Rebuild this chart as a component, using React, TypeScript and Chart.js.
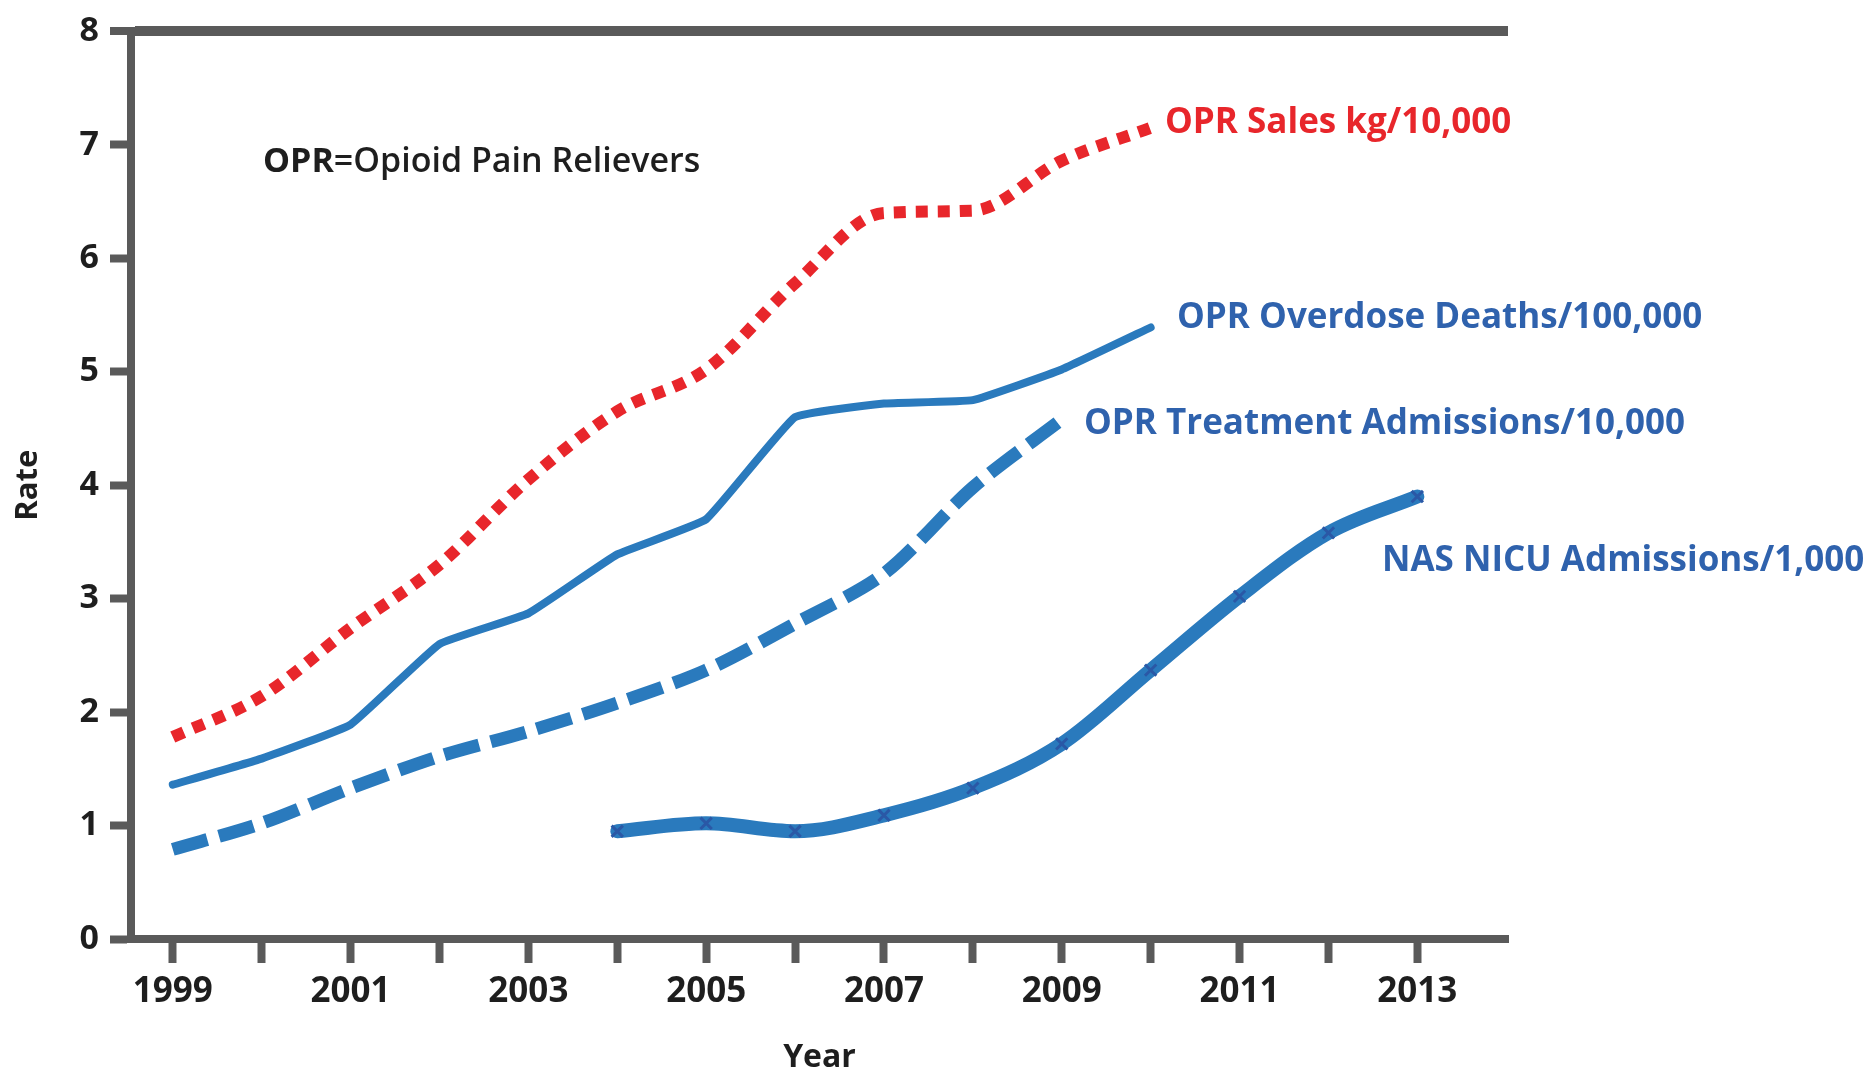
import React, { useEffect, useRef } from "react";
import { Chart, registerables } from "chart.js";

Chart.register(...registerables);

// ---------- data ----------
const salesYears = [1999, 2000, 2001, 2002, 2003, 2004, 2005, 2006, 2007, 2008, 2009, 2010];
const salesValues = [1.78, 2.14, 2.74, 3.3, 4.05, 4.65, 5.02, 5.78, 6.4, 6.42, 6.86, 7.15];

const deathsYears = [1999, 2000, 2001, 2002, 2003, 2004, 2005, 2006, 2007, 2008, 2009, 2010];
const deathsValues = [1.36, 1.59, 1.89, 2.6, 2.87, 3.39, 3.7, 4.6, 4.72, 4.75, 5.02, 5.39];

const treatmentYears = [1999, 2000, 2001, 2002, 2003, 2004, 2005, 2006, 2007, 2008, 2009];
const treatmentValues = [0.79, 1.02, 1.33, 1.61, 1.83, 2.08, 2.37, 2.78, 3.22, 3.98, 4.58];

const nasYears = [2004, 2005, 2006, 2007, 2008, 2009, 2010, 2011, 2012, 2013];
const nasValues = [0.95, 1.02, 0.95, 1.09, 1.33, 1.72, 2.37, 3.02, 3.58, 3.9];

const xTickYears = [1999, 2000, 2001, 2002, 2003, 2004, 2005, 2006, 2007, 2008, 2009, 2010, 2011, 2012, 2013];
const xLabelYears = [1999, 2001, 2003, 2005, 2007, 2009, 2011, 2013];

const seriesNames = [
  "OPR Sales kg/10,000",
  "OPR Overdose Deaths/100,000",
  "OPR Treatment Admissions/10,000",
  "NAS NICU Admissions/1,000",
];
const noteBold = "OPR";
const noteRest = "=Opioid Pain Relievers";
const xTitle = "Year";
const yTitle = "Rate";

// ---------- styles ----------
const GRAY = "#5a5a5a";
const RED = "#e8262b";
const LINE_BLUE = "#2a7abd";
const TEXT_BLUE = "#2f62ad";
const MARK_BLUE = "#2a58a6";
const TEXT_DARK = "#1e1e1e";
const FONT = "'Open Sans', 'Noto Sans', sans-serif";

const pts = (xs: number[], ys: number[]) => xs.map((x, i) => ({ x, y: ys[i] }));

const labelPlugin = {
  id: "seriesLabels",
  afterDraw(chart: any) {
    const ctx = chart.ctx;
    ctx.save();
    ctx.textBaseline = "middle";
    ctx.textAlign = "left";
    // note
    ctx.fillStyle = TEXT_DARK;
    ctx.font = `700 34px ${FONT}`;
    ctx.fillText(noteBold, 263, 162);
    const w = ctx.measureText(noteBold).width;
    ctx.font = `600 34px ${FONT}`;
    ctx.fillText(noteRest, 263 + w, 162);

    const items = [
      { text: seriesNames[0], color: RED, x: 1165, y: 123 },
      { text: seriesNames[1], color: TEXT_BLUE, x: 1177, y: 318 },
      { text: seriesNames[2], color: TEXT_BLUE, x: 1084, y: 424 },
      { text: seriesNames[3], color: TEXT_BLUE, x: 1382, y: 561 },
    ];
    ctx.font = `700 35px ${FONT}`;
    for (const it of items) {
      ctx.fillStyle = it.color;
      ctx.fillText(it.text, it.x, it.y);
    }
    ctx.restore();
  },
};

export default function App() {
  const ref = useRef<HTMLCanvasElement | null>(null);

  useEffect(() => {
    if (!ref.current) return;
    const tickFont = { family: FONT, size: 35, weight: "bold" as const };
    const chart = new Chart(ref.current, {
      type: "line",
      data: {
        datasets: [
          {
            label: seriesNames[0],
            data: pts(salesYears, salesValues),
            borderColor: RED,
            borderWidth: 12,
            borderDash: [12, 10],
            borderCapStyle: "butt",
            cubicInterpolationMode: "monotone",
            pointRadius: 0,
          },
          {
            label: seriesNames[1],
            data: pts(deathsYears, deathsValues),
            borderColor: LINE_BLUE,
            borderWidth: 8,
            borderCapStyle: "round",
            borderJoinStyle: "round",
            tension: 0.1,
            pointRadius: 0,
          },
          {
            label: seriesNames[2],
            data: pts(treatmentYears, treatmentValues),
            borderColor: LINE_BLUE,
            borderWidth: 13,
            borderDash: [36, 12],
            borderCapStyle: "butt",
            tension: 0.3,
            pointRadius: 0,
          },
          {
            label: seriesNames[3],
            data: pts(nasYears, nasValues),
            borderColor: LINE_BLUE,
            borderWidth: 14,
            borderCapStyle: "round",
            cubicInterpolationMode: "monotone",
            pointStyle: "crossRot",
            pointRadius: 8,
            pointBorderWidth: 3,
            pointBorderColor: MARK_BLUE,
            pointBackgroundColor: MARK_BLUE,
          },
        ],
      },
      options: {
        responsive: false,
        animation: false,
        events: [],
        layout: { padding: { left: 0, top: 23, right: 360, bottom: 0 } },
        plugins: { legend: { display: false }, tooltip: { enabled: false } },
        scales: {
          x: {
            type: "linear",
            min: 1998.53,
            max: 2014.02,
            afterBuildTicks: (s: any) => {
              s.ticks = xTickYears.map((v) => ({ value: v }));
            },
            afterFit: (s: any) => {
              s.height = 136;
            },
            ticks: {
              autoSkip: false,
              maxRotation: 0,
              padding: 8,
              color: TEXT_DARK,
              font: tickFont,
              callback: (v: any) => (xLabelYears.includes(Number(v)) ? String(v) : ""),
            },
            grid: {
              drawOnChartArea: false,
              drawTicks: true,
              tickLength: 24,
              tickWidth: 8,
              tickColor: GRAY,
            },
            border: { display: true, color: GRAY, width: 8 },
            title: {
              display: true,
              text: xTitle,
              color: TEXT_DARK,
              font: { family: FONT, size: 32, weight: "bold", lineHeight: 1.0 },
              padding: { top: 0, bottom: 1 },
            },
          },
          y: {
            min: 0,
            max: 8,
            afterFit: (s: any) => {
              s.width = 131;
            },
            ticks: {
              stepSize: 1,
              padding: 11,
              color: TEXT_DARK,
              font: { family: FONT, size: 34, weight: "bold" },
            },
            grid: {
              drawOnChartArea: true,
              color: (c: any) => (c.tick && c.tick.value === 8 ? GRAY : "rgba(0,0,0,0)"),
              lineWidth: (c: any) => (c.tick && c.tick.value === 8 ? 10 : 1),
              tickLength: 21,
              tickWidth: 8,
              tickColor: GRAY,
            },
            border: { display: true, color: GRAY, width: 8 },
            title: {
              display: true,
              text: yTitle,
              color: TEXT_DARK,
              font: { family: FONT, size: 31, weight: "bold" },
              padding: { top: 10, bottom: 0 },
            },
          },
        },
      },
      plugins: [labelPlugin],
    } as any);
    return () => chart.destroy();
  }, []);

  return (
    <div style={{ position: "fixed", left: 0, top: 0, width: 1868, height: 1075, background: "#fff" }}>
      <canvas ref={ref} width={1868} height={1075} style={{ display: "block" }} />
    </div>
  );
}
